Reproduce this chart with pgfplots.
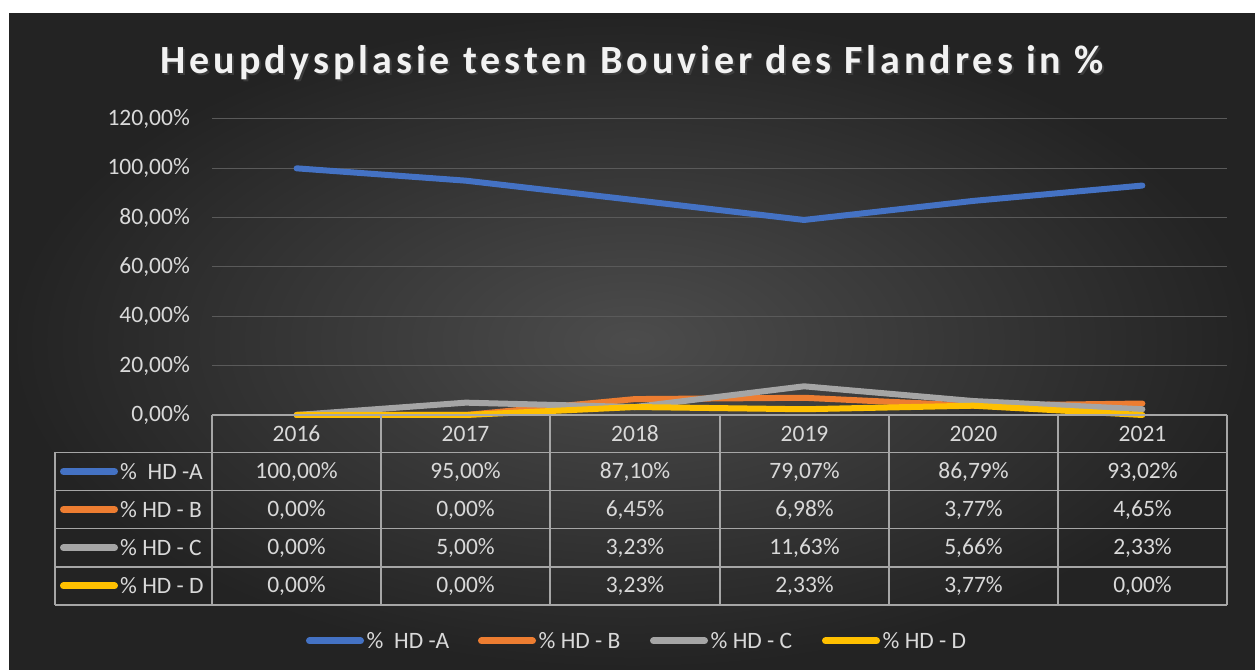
\documentclass[border=0pt]{standalone}
\usepackage{pgfplots}
\pgfplotsset{compat=1.18}
\usepackage{fontspec}
\setmainfont{Carlito}
\newfontfamily\titlefont[LetterSpace=10]{Carlito}
\definecolor{cA}{HTML}{4472C4}
\definecolor{cB}{HTML}{ED7D31}
\definecolor{cC}{HTML}{A5A5A5}
\definecolor{cD}{HTML}{FFC000}
\definecolor{txt}{HTML}{D9D9D9}
\definecolor{tbl}{HTML}{A6A6A6}
\definecolor{gridc}{HTML}{5A5A5A}
\definecolor{bgin}{HTML}{4C4C4C}
\definecolor{bgout}{HTML}{232323}
\newcommand{\tf}{\fontsize{23.5}{28}\selectfont}
\begin{document}
\begin{tikzpicture}[x=1pt,y=1pt]
\useasboundingbox (0,0) rectangle (1255,669);
\fill[white] (0,0) rectangle (1255,669);
\shade[inner color=bgin, outer color=bgout] (9,0) rectangle (1255,655);
\node[font=\titlefont\bfseries\fontsize{40}{48}\selectfont, text=black!70, opacity=0.6, anchor=base, inner sep=0pt] at (634,593) {Heupdysplasie testen Bouvier des Flandres in \%};
\node[font=\titlefont\bfseries\fontsize{40}{48}\selectfont, text=white!95!black, anchor=base, inner sep=0pt] at (632,595) {Heupdysplasie testen Bouvier des Flandres in \%};
\begin{axis}[
  at={(212pt,254pt)}, anchor=south west,
  scale only axis, width=1015pt, height=296pt,
  xmin=-0.5, xmax=5.5, ymin=0, ymax=120,
  axis line style={draw=none}, tick style={draw=none},
  xtick=\empty,
  ytick={0,20,40,60,80,100,120},
  yticklabels={{0,00\%},{20,00\%},{40,00\%},{60,00\%},{80,00\%},{100,00\%},{120,00\%}},
  yticklabel style={font=\tf, text=txt, anchor=east, inner sep=0pt, xshift=-22pt},
  ymajorgrids, grid style={gridc, line width=1pt},
  clip=false,
  every axis plot/.append style={line width=6pt, line cap=round, line join=round},
]
\addplot[cA] coordinates {(0,100) (1,95) (2,87.10) (3,79.07) (4,86.79) (5,93.02)};
\addplot[cB] coordinates {(0,0) (1,0) (2,6.45) (3,6.98) (4,3.77) (5,4.65)};
\addplot[cC] coordinates {(0,0) (1,5) (2,3.23) (3,11.63) (4,5.66) (5,2.33)};
\addplot[cD] coordinates {(0,0) (1,0) (2,3.23) (3,2.33) (4,3.77) (5,0)};
\end{axis}
% data table
\begin{scope}[tbl, line width=1.5pt]
\draw (212,254) -- (1227,254);
\foreach \yy in {216.5,178.5,140.5,102,64} \draw (55,\yy) -- (1227,\yy);
\foreach \xx in {212,381,550,720,889,1058,1227} \draw (\xx,254) -- (\xx,64);
\draw (55,216.5) -- (55,64);
\end{scope}
\begin{scope}[every node/.style={font=\tf, text=txt, inner sep=0pt}]
\foreach \x/\t in {296.5/2016,465.5/2017,635/2018,804.5/2019,973.5/2020,1142.5/2021}
  \node at (\x,235.25) {\t};
\foreach \x/\t in {296.5/{100,00\%},465.5/{95,00\%},635/{87,10\%},804.5/{79,07\%},973.5/{86,79\%},1142.5/{93,02\%}}
  \node at (\x,197.5) {\t};
\foreach \x/\t in {296.5/{0,00\%},465.5/{0,00\%},635/{6,45\%},804.5/{6,98\%},973.5/{3,77\%},1142.5/{4,65\%}}
  \node at (\x,159.5) {\t};
\foreach \x/\t in {296.5/{0,00\%},465.5/{5,00\%},635/{3,23\%},804.5/{11,63\%},973.5/{5,66\%},1142.5/{2,33\%}}
  \node at (\x,121.25) {\t};
\foreach \x/\t in {296.5/{0,00\%},465.5/{0,00\%},635/{3,23\%},804.5/{2,33\%},973.5/{3,77\%},1142.5/{0,00\%}}
  \node at (\x,83) {\t};
\foreach \yy/\c/\t in {197.5/cA/{\%\ \ HD -A},159.5/cB/{\% HD - B},121.25/cC/{\% HD - C},83/cD/{\% HD - D}}{
  \draw[\c, line width=7pt, line cap=round] (63.5,\yy) -- (114.5,\yy);
  \node[anchor=west] at (120,\yy) {\t};
}
\foreach \xx/\c/\t in {309.5/cA/{\%\ \ HD -A},481.5/cB/{\% HD - B},653.5/cC/{\% HD - C},825.5/cD/{\% HD - D}}{
  \draw[\c, line width=7pt, line cap=round] (\xx,28) -- (\xx+51,28);
  \node[anchor=west] at (\xx+57,28) {\t};
}
\end{scope}
\end{tikzpicture}
\end{document}
